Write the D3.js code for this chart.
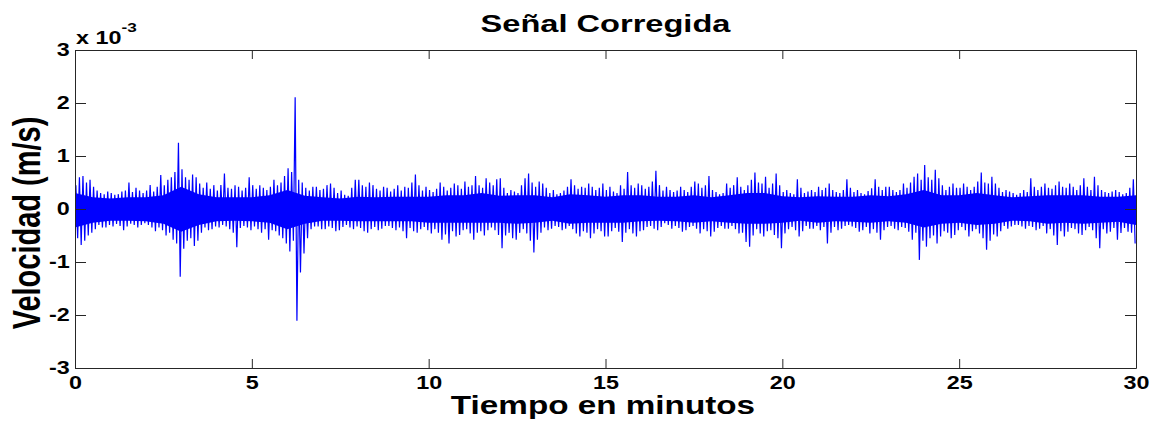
<!DOCTYPE html>
<html><head><meta charset="utf-8">
<script src="https://cdn.jsdelivr.net/npm/d3@7"></script>
<style>
body{margin:0;background:#fff}
svg{display:block}
text{font-family:"Liberation Sans",Arial,sans-serif;font-weight:bold;fill:#000}
</style>
</head><body>
<svg id="c" width="1157" height="421"></svg>
<script>
// ---- data (values in units of 1e-3 m/s) ----
const titleText = "Señal Corregida";
const xLabelText = "Tiempo en minutos";
const yLabelText = "Velocidad (m/s)";
const xTicks = [0, 5, 10, 15, 20, 25, 30];
const yTicks = [-3, -2, -1, 0, 1, 2, 3];
const binStep = 0.1; // minutes per envelope bin (10 bins per row = 1 minute)
const peakHigh = [
 0.45,0.60,0.62,0.50,0.55,0.42,0.35,0.30,0.28,0.33,
 0.30,0.27,0.28,0.33,0.35,0.50,0.32,0.40,0.35,0.30,
 0.35,0.45,0.33,0.42,0.64,0.45,0.55,0.60,0.70,1.25,
 0.75,0.60,0.55,0.65,0.60,0.48,0.40,0.50,0.38,0.45,
 0.35,0.45,0.67,0.40,0.38,0.45,0.42,0.35,0.40,0.60,
 0.45,0.38,0.45,0.40,0.36,0.42,0.55,0.45,0.50,0.62,
 0.77,0.70,2.11,0.55,0.50,0.40,0.35,0.42,0.42,0.36,
 0.38,0.45,0.48,0.40,0.30,0.35,0.27,0.25,0.40,0.55,
 0.55,0.45,0.42,0.50,0.45,0.38,0.35,0.42,0.40,0.33,
 0.38,0.45,0.35,0.42,0.40,0.50,0.65,0.45,0.35,0.42,
 0.36,0.32,0.38,0.50,0.42,0.35,0.40,0.48,0.45,0.38,
 0.52,0.42,0.45,0.62,0.45,0.40,0.58,0.50,0.45,0.56,
 0.58,0.40,0.30,0.36,0.33,0.30,0.45,0.58,0.67,0.50,
 0.42,0.52,0.48,0.40,0.30,0.36,0.28,0.30,0.35,0.42,
 0.56,0.45,0.38,0.42,0.40,0.48,0.42,0.36,0.40,0.48,
 0.36,0.42,0.33,0.30,0.45,0.38,0.70,0.45,0.40,0.48,
 0.45,0.38,0.42,0.52,0.72,0.45,0.35,0.42,0.36,0.32,
 0.35,0.42,0.36,0.32,0.42,0.52,0.48,0.40,0.45,0.62,
 0.36,0.32,0.28,0.30,0.48,0.40,0.45,0.60,0.42,0.36,
 0.45,0.55,0.69,0.50,0.48,0.61,0.40,0.48,0.67,0.45,
 0.32,0.36,0.30,0.28,0.56,0.40,0.30,0.33,0.36,0.32,
 0.42,0.36,0.40,0.48,0.36,0.32,0.30,0.36,0.56,0.40,
 0.32,0.36,0.30,0.28,0.34,0.39,0.56,0.42,0.36,0.42,
 0.42,0.36,0.32,0.36,0.48,0.40,0.50,0.61,0.67,0.55,
 0.83,0.60,0.55,0.74,0.58,0.45,0.36,0.42,0.48,0.40,
 0.40,0.48,0.42,0.36,0.42,0.52,0.69,0.50,0.48,0.61,
 0.48,0.40,0.32,0.36,0.33,0.30,0.27,0.30,0.36,0.32,
 0.58,0.42,0.36,0.42,0.48,0.40,0.38,0.45,0.52,0.42,
 0.40,0.48,0.42,0.36,0.45,0.58,0.42,0.36,0.61,0.45,
 0.36,0.32,0.30,0.33,0.36,0.32,0.28,0.30,0.40,0.56
];
const peakLow = [
 -0.55,-0.68,-0.60,-0.50,-0.45,-0.38,-0.30,-0.35,-0.35,-0.30,
 -0.33,-0.28,-0.32,-0.40,-0.33,-0.28,-0.30,-0.35,-0.30,-0.27,
 -0.30,-0.35,-0.42,-0.35,-0.40,-0.50,-0.45,-0.58,-0.65,-1.28,
 -0.75,-0.60,-0.55,-0.70,-0.60,-0.45,-0.35,-0.40,-0.38,-0.33,
 -0.35,-0.30,-0.33,-0.38,-0.45,-0.72,-0.36,-0.32,-0.35,-0.40,
 -0.33,-0.38,-0.45,-0.38,-0.58,-0.40,-0.42,-0.50,-0.55,-0.65,
 -0.80,-0.60,-2.11,-1.20,-0.84,-0.55,-0.38,-0.33,-0.33,-0.38,
 -0.38,-0.33,-0.36,-0.42,-0.40,-0.34,-0.30,-0.35,-0.38,-0.33,
 -0.36,-0.42,-0.45,-0.38,-0.34,-0.40,-0.37,-0.32,-0.32,-0.36,
 -0.40,-0.35,-0.42,-0.55,-0.36,-0.42,-0.45,-0.38,-0.34,-0.40,
 -0.46,-0.38,-0.45,-0.58,-0.48,-0.65,-0.42,-0.52,-0.49,-0.40,
 -0.38,-0.46,-0.58,-0.45,-0.42,-0.50,-0.40,-0.35,-0.40,-0.49,
 -0.74,-0.50,-0.45,-0.55,-0.58,-0.45,-0.38,-0.46,-0.60,-0.82,
 -0.58,-0.45,-0.35,-0.40,-0.37,-0.32,-0.34,-0.40,-0.37,-0.32,
 -0.38,-0.46,-0.52,-0.42,-0.45,-0.55,-0.46,-0.38,-0.42,-0.52,
 -0.52,-0.42,-0.36,-0.43,-0.62,-0.45,-0.38,-0.46,-0.52,-0.42,
 -0.40,-0.34,-0.32,-0.37,-0.40,-0.34,-0.27,-0.30,-0.37,-0.32,
 -0.36,-0.43,-0.40,-0.34,-0.32,-0.37,-0.46,-0.38,-0.42,-0.52,
 -0.43,-0.36,-0.32,-0.37,-0.37,-0.32,-0.38,-0.46,-0.45,-0.62,
 -0.71,-0.50,-0.38,-0.46,-0.52,-0.42,-0.40,-0.49,-0.55,-0.74,
 -0.46,-0.38,-0.34,-0.40,-0.52,-0.42,-0.32,-0.37,-0.37,-0.32,
 -0.40,-0.34,-0.65,-0.45,-0.34,-0.40,-0.37,-0.32,-0.30,-0.33,
 -0.36,-0.43,-0.40,-0.34,-0.46,-0.38,-0.45,-0.58,-0.40,-0.34,
 -0.32,-0.37,-0.40,-0.34,-0.36,-0.43,-0.58,-0.45,-0.96,-0.60,
 -0.71,-0.55,-0.50,-0.65,-0.52,-0.42,-0.45,-0.55,-0.49,-0.40,
 -0.34,-0.40,-0.52,-0.42,-0.38,-0.46,-0.55,-0.77,-0.60,-0.48,
 -0.52,-0.42,-0.32,-0.37,-0.33,-0.30,-0.30,-0.33,-0.37,-0.32,
 -0.34,-0.40,-0.37,-0.32,-0.46,-0.38,-0.50,-0.68,-0.42,-0.52,
 -0.43,-0.36,-0.38,-0.46,-0.49,-0.40,-0.34,-0.40,-0.55,-0.74,
 -0.38,-0.46,-0.43,-0.36,-0.58,-0.45,-0.36,-0.43,-0.45,-0.65
];
const coreStep = 0.5; // minutes between dense-band samples
const coreHigh = [
 0.30,0.22,0.20,0.22,0.22,0.26,0.42,0.28,0.22,0.22,0.22,0.26,0.36,0.25,0.22,0.20,
 0.23,0.22,0.23,0.23,0.23,0.26,0.26,0.30,0.25,0.26,0.26,0.22,0.28,0.26,0.23,0.26,
 0.26,0.23,0.23,0.26,0.22,0.26,0.30,0.30,0.24,0.22,0.24,0.23,0.23,0.26,0.24,0.28,
 0.36,0.26,0.26,0.30,0.26,0.22,0.24,0.26,0.26,0.26,0.23,0.23,0.26
];
const coreLow = [
 -0.35,-0.26,-0.22,-0.22,-0.23,-0.28,-0.43,-0.30,-0.23,-0.22,-0.23,-0.26,-0.38,-0.28,-0.22,-0.22,
 -0.23,-0.23,-0.23,-0.23,-0.26,-0.26,-0.26,-0.26,-0.26,-0.28,-0.26,-0.22,-0.28,-0.26,-0.26,-0.26,
 -0.23,-0.22,-0.23,-0.26,-0.23,-0.26,-0.28,-0.28,-0.26,-0.22,-0.26,-0.23,-0.24,-0.26,-0.23,-0.26,
 -0.35,-0.28,-0.26,-0.30,-0.28,-0.22,-0.23,-0.28,-0.26,-0.28,-0.26,-0.24,-0.30
];

// ---- layout ----
const SX = 1.32; // horizontal stretch of the reference's glyphs
const m = {l: 75, r: 1136, t: 50, b: 368};
const x = d3.scaleLinear().domain([0, 30]).range([m.l, m.r]);
const y = d3.scaleLinear().domain([-3, 3]).range([m.b, m.t]);
const svg = d3.select('#c');
const blue = '#0000ff';
const axisCol = '#262626';

// dense band
const coreData = coreHigh.map((h, i) => ({t: i * coreStep, h, l: coreLow[i]}));
svg.append('path').datum(coreData)
  .attr('d', d3.area().x(d => x(d.t)).y0(d => y(d.l)).y1(d => y(d.h)))
  .attr('fill', blue);

// envelope spikes
const pts = [];
peakHigh.forEach((h, i) => {
  pts.push([i * binStep + binStep * 0.25, h]);
  pts.push([i * binStep + binStep * 0.75, peakLow[i]]);
});
svg.append('path').datum(pts)
  .attr('d', d3.line().x(d => x(d[0])).y(d => y(d[1])))
  .attr('fill', 'none').attr('stroke', blue).attr('stroke-width', 1.2);

// axes
function style(g) {
  g.select('.domain').attr('stroke', axisCol).attr('stroke-width', 1);
  g.selectAll('.tick line').attr('stroke', axisCol);
  g.selectAll('text').attr('font-size', null).attr('font-family', null)
    .style('font-size', '17.7px').attr('fill', '#000');
}
const fmt = d => String(d);
svg.append('g').attr('transform', `translate(0,${m.b})`)
  .call(d3.axisBottom(x).tickValues(xTicks).tickSizeInner(-9).tickSizeOuter(0).tickPadding(8).tickFormat(fmt))
  .call(style)
  .call(g => g.selectAll('text').attr('transform', `scale(${SX},1)`));
svg.append('g').attr('transform', `translate(${m.l},0)`)
  .call(d3.axisLeft(y).tickValues(yTicks).tickSizeInner(-11).tickSizeOuter(0).tickPadding(4).tickFormat(fmt))
  .call(style)
  .call(g => g.selectAll('text').attr('transform', `scale(${SX},1)`));
svg.append('g').attr('transform', `translate(0,${m.t})`)
  .call(d3.axisTop(x).tickValues(xTicks).tickSizeInner(-9).tickSizeOuter(0).tickFormat(''))
  .call(style);
svg.append('g').attr('transform', `translate(${m.r},0)`)
  .call(d3.axisRight(y).tickValues(yTicks).tickSizeInner(-11).tickSizeOuter(0).tickFormat(''))
  .call(style);

// exponent
const ex = svg.append('text').attr('transform', `translate(76,44) scale(${SX},1)`).style('font-size', '17.7px');
ex.append('tspan').text('x 10');
ex.append('tspan').attr('dy', -12).style('font-size', '13px').text('-3');

// title and labels
svg.append('text').attr('transform', `translate(605.5,32) scale(${SX},1)`)
  .attr('text-anchor', 'middle').style('font-size', '24.7px').text(titleText);
svg.append('text').attr('transform', `translate(603,414) scale(${SX},1)`)
  .attr('text-anchor', 'middle').style('font-size', '25.2px').text(xLabelText);
svg.append('text').attr('transform', `translate(40,223) scale(${SX},1) rotate(-90)`)
  .attr('text-anchor', 'middle').style('font-size', '29px').text(yLabelText);
</script>
</body></html>
